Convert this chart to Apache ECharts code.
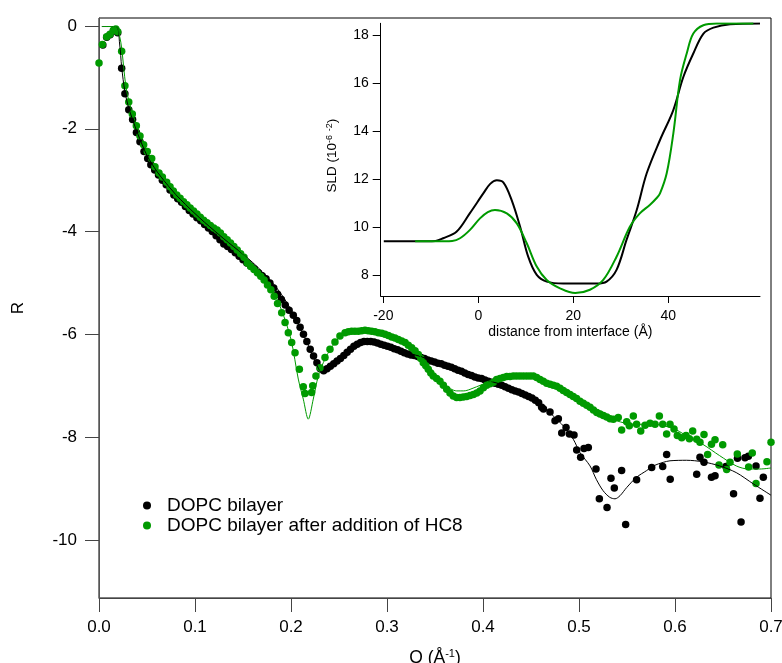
<!DOCTYPE html>
<html><head><meta charset="utf-8">
<script src="https://cdn.jsdelivr.net/npm/echarts@6/dist/echarts.min.js"></script>
<style>html,body{margin:0;padding:0;background:#fff}#c{width:782px;height:663px}</style>
</head><body><div id="c"></div>
<script>
// ---- main plot: reflectivity data (Q in 1/Å, R) ----
const blackQ = [0.004,0.008,0.0115,0.015,0.0195,0.0236,0.027,0.031,0.035,0.039,0.0427,0.0469,0.0507,0.054,0.058,0.062,0.066,0.070,0.074,0.078,0.082,0.086,0.090,0.094,0.098,0.102,0.106,0.110,0.114,0.118,0.122,0.126,0.130,0.134,0.138,0.142,0.146,0.150,0.154,0.158,0.162,0.166,0.170,0.174,0.178,0.182,0.186,0.190,0.194,0.198,0.2024,0.206,0.2095,0.213,0.2165,0.220,0.2235,0.227,0.2305,0.234,0.2375,0.241,0.2445,0.248,0.2515,0.255,0.2585,0.262,0.2655,0.269,0.2725,0.276,0.2795,0.283,0.2865,0.290,0.2935,0.297,0.3005,0.304,0.3075,0.311,0.3145,0.318,0.3215,0.325,0.3285,0.332,0.3355,0.339,0.3425,0.346,0.3495,0.353,0.3565,0.360,0.3635,0.367,0.3705,0.374,0.3775,0.381,0.3845,0.388,0.3915,0.395,0.3985,0.402,0.4055,0.409,0.4125,0.416,0.4195,0.423,0.4265,0.430,0.4335,0.437,0.4405,0.444,0.4475,0.451,0.4545,0.458,0.4611,0.463,0.4698,0.475,0.4785,0.482,0.4865,0.490,0.4948,0.4976,0.5017,0.5052,0.5097,0.5177,0.5212,0.5292,0.5333,0.5368,0.5444,0.5486,0.560,0.5757,0.5872,0.5913,0.5950,0.6226,0.626,0.6302,0.638,0.6417,0.653,0.661,0.6651,0.6688,0.6729,0.6764,0.6844,0.6885,0.692];
const blackR = [-0.37,-0.22,-0.17,-0.09,-0.13,-0.82,-1.32,-1.63,-1.82,-2.07,-2.25,-2.44,-2.58,-2.70,-2.80,-2.90,-3.00,-3.09,-3.19,-3.29,-3.36,-3.43,-3.51,-3.59,-3.66,-3.73,-3.79,-3.86,-3.93,-4.00,-4.08,-4.16,-4.24,-4.29,-4.35,-4.41,-4.48,-4.55,-4.61,-4.67,-4.73,-4.80,-4.86,-4.92,-5.00,-5.10,-5.22,-5.32,-5.43,-5.53,-5.63,-5.73,-5.86,-6.00,-6.14,-6.29,-6.42,-6.55,-6.67,-6.71,-6.67,-6.62,-6.57,-6.52,-6.47,-6.41,-6.35,-6.29,-6.23,-6.19,-6.16,-6.14,-6.14,-6.14,-6.15,-6.17,-6.19,-6.21,-6.23,-6.25,-6.28,-6.30,-6.33,-6.36,-6.38,-6.40,-6.41,-6.43,-6.45,-6.47,-6.50,-6.52,-6.54,-6.56,-6.57,-6.60,-6.62,-6.64,-6.67,-6.70,-6.72,-6.75,-6.78,-6.80,-6.83,-6.85,-6.86,-6.89,-6.91,-6.93,-6.95,-6.97,-6.99,-7.02,-7.05,-7.08,-7.10,-7.12,-7.15,-7.18,-7.21,-7.24,-7.28,-7.33,-7.42,-7.45,-7.51,-7.68,-7.64,-7.92,-7.81,-7.94,-7.96,-8.25,-8.39,-8.22,-8.20,-8.62,-9.20,-9.37,-8.80,-8.99,-8.65,-9.70,-8.83,-8.59,-8.57,-8.34,-8.82,-8.72,-8.39,-8.49,-8.78,-8.75,-8.57,-9.10,-8.41,-9.65,-8.40,-8.37,-8.56,-9.19,-8.78];

const greenQ = [0.000,0.0035,0.008,0.0115,0.015,0.0175,0.0195,0.0236,0.027,0.031,0.0347,0.0389,0.0427,0.0465,0.0503,0.0549,0.0583,0.0625,0.066,0.0705,0.074,0.0774,0.081,0.0845,0.088,0.0915,0.095,0.0985,0.102,0.1055,0.109,0.1125,0.116,0.1195,0.123,0.1265,0.130,0.1335,0.137,0.1405,0.144,0.1475,0.151,0.1545,0.158,0.1615,0.165,0.1685,0.172,0.1755,0.179,0.1825,0.186,0.1903,0.1938,0.1972,0.2007,0.2042,0.2087,0.2128,0.2146,0.2215,0.2226,0.226,0.2302,0.2354,0.2406,0.2458,0.251,0.2563,0.2597,0.2632,0.2666,0.2701,0.2736,0.2771,0.2805,0.284,0.2875,0.291,0.2945,0.2979,0.3014,0.3049,0.3083,0.3118,0.3153,0.3188,0.3222,0.3257,0.3292,0.3326,0.3352,0.3378,0.3404,0.343,0.3456,0.3482,0.3517,0.3552,0.3587,0.3622,0.3656,0.369,0.3725,0.376,0.3795,0.383,0.3865,0.39,0.3935,0.3969,0.4004,0.4038,0.4073,0.4108,0.4142,0.4177,0.4212,0.4247,0.4281,0.4316,0.435,0.4385,0.442,0.4455,0.449,0.4524,0.4559,0.4594,0.4628,0.4663,0.4698,0.4732,0.4767,0.4802,0.4836,0.4871,0.4906,0.494,0.4975,0.501,0.5045,0.508,0.5115,0.515,0.5185,0.5219,0.5254,0.5289,0.5323,0.5358,0.5409,0.5444,0.5497,0.5524,0.5566,0.560,0.5643,0.5688,0.574,0.5792,0.5837,0.5872,0.5913,0.5948,0.599,0.6024,0.607,0.6115,0.615,0.6184,0.6226,0.626,0.6302,0.634,0.638,0.6417,0.6458,0.6497,0.6538,0.6573,0.6649,0.6767,0.6805,0.6844,0.6958,0.700];
const greenR = [-0.72,-0.36,-0.21,-0.16,-0.08,-0.06,-0.11,-0.49,-1.16,-1.48,-1.71,-1.94,-2.14,-2.31,-2.44,-2.58,-2.74,-2.86,-2.94,-3.04,-3.13,-3.21,-3.29,-3.35,-3.42,-3.48,-3.54,-3.60,-3.66,-3.72,-3.78,-3.83,-3.88,-3.93,-3.97,-4.03,-4.10,-4.16,-4.22,-4.29,-4.36,-4.43,-4.50,-4.61,-4.68,-4.74,-4.80,-4.87,-4.94,-5.04,-5.13,-5.26,-5.40,-5.58,-5.77,-5.97,-6.16,-6.36,-6.68,-7.02,-7.15,-7.13,-7.00,-6.81,-6.65,-6.45,-6.29,-6.15,-6.03,-5.97,-5.95,-5.94,-5.94,-5.94,-5.93,-5.92,-5.93,-5.94,-5.95,-5.97,-5.98,-6.00,-6.02,-6.05,-6.07,-6.10,-6.13,-6.16,-6.21,-6.26,-6.32,-6.39,-6.47,-6.55,-6.61,-6.68,-6.75,-6.81,-6.86,-6.91,-6.99,-7.07,-7.14,-7.20,-7.23,-7.23,-7.22,-7.21,-7.19,-7.17,-7.14,-7.10,-7.04,-6.99,-6.96,-6.93,-6.88,-6.86,-6.84,-6.82,-6.82,-6.81,-6.81,-6.81,-6.81,-6.81,-6.81,-6.81,-6.84,-6.88,-6.91,-6.95,-6.97,-6.99,-7.01,-7.05,-7.09,-7.13,-7.17,-7.21,-7.25,-7.30,-7.34,-7.38,-7.42,-7.47,-7.52,-7.55,-7.58,-7.61,-7.64,-7.65,-7.62,-7.86,-7.70,-7.78,-7.59,-7.75,-7.88,-7.77,-7.73,-7.75,-7.59,-7.75,-7.94,-7.75,-7.84,-7.97,-8.01,-7.97,-8.03,-7.88,-8.04,-8.10,-7.95,-8.34,-8.14,-8.05,-8.54,-8.15,-8.63,-8.49,-8.33,-8.58,-8.31,-8.90,-8.48,-8.10];

// fitted curves
const blackFitQ = [0.003,0.018,0.0215,0.0236,0.027,0.031,0.035,0.04,0.05,0.06,0.07,0.08,0.09,0.10,0.11,0.12,0.13,0.14,0.15,0.16,0.17,0.18,0.19,0.20,0.21,0.22,0.2285,0.232,0.236,0.245,0.255,0.265,0.275,0.285,0.295,0.305,0.315,0.325,0.335,0.345,0.355,0.365,0.375,0.385,0.395,0.405,0.415,0.425,0.435,0.445,0.455,0.466,0.475,0.4836,0.494,0.501,0.5115,0.518,0.525,0.532,0.5375,0.5427,0.5497,0.56,0.5705,0.5774,0.5878,0.5948,0.612,0.629,0.6465,0.6638,0.6816,0.7];
const blackFitR = [-0.01,-0.01,-0.35,-0.80,-1.28,-1.60,-1.82,-2.08,-2.52,-2.82,-3.06,-3.28,-3.47,-3.65,-3.82,-3.98,-4.14,-4.29,-4.44,-4.60,-4.78,-4.98,-5.22,-5.52,-5.88,-6.30,-6.66,-6.74,-6.69,-6.56,-6.40,-6.24,-6.16,-6.14,-6.18,-6.24,-6.31,-6.38,-6.43,-6.50,-6.56,-6.62,-6.70,-6.77,-6.84,-6.90,-6.95,-7.01,-7.08,-7.16,-7.29,-7.46,-7.62,-7.78,-8.04,-8.30,-8.56,-8.82,-9.04,-9.17,-9.20,-9.14,-8.98,-8.78,-8.65,-8.56,-8.49,-8.46,-8.45,-8.48,-8.56,-8.69,-8.91,-9.13];
const greenFitQ = [0.003,0.018,0.0215,0.0236,0.0278,0.031,0.035,0.04,0.05,0.06,0.07,0.08,0.09,0.10,0.11,0.12,0.13,0.14,0.15,0.16,0.17,0.18,0.19,0.20,0.2076,0.2128,0.218,0.2232,0.2284,0.2337,0.24,0.25,0.26,0.27,0.28,0.29,0.30,0.31,0.32,0.33,0.34,0.35,0.36,0.3726,0.38,0.3865,0.40,0.4177,0.43,0.44,0.45,0.46,0.47,0.48,0.487,0.50,0.51,0.5219,0.53,0.539,0.557,0.5774,0.598,0.6118,0.629,0.6465,0.6638,0.6764,0.6885,0.7];
const greenFitR = [-0.01,-0.01,-0.20,-0.43,-1.15,-1.45,-1.70,-1.98,-2.42,-2.78,-3.03,-3.25,-3.44,-3.62,-3.78,-3.93,-4.08,-4.25,-4.44,-4.64,-4.86,-5.12,-5.52,-6.10,-6.87,-7.26,-7.65,-7.26,-6.81,-6.55,-6.32,-6.07,-5.97,-5.93,-5.93,-5.96,-6.01,-6.08,-6.18,-6.33,-6.55,-6.80,-6.98,-7.10,-7.10,-7.07,-6.97,-6.86,-6.81,-6.80,-6.82,-6.88,-6.95,-7.03,-7.07,-7.24,-7.38,-7.49,-7.58,-7.68,-7.75,-7.75,-7.83,-7.97,-8.14,-8.36,-8.56,-8.62,-8.62,-8.60];

// ---- inset: SLD profiles ----
const sldBlackZ = [-19.9,-13,-9,-7.4,-4.6,-1.8,1.05,2.5,3.9,5.3,7.0,8.8,10.5,12.3,14.4,17.9,24.9,27.0,29.1,31.2,33.35,35.45,38.25,41.05,43.16,45.26,47.4,49.5,53.0,59.3];
const sldBlack  = [9.40,9.40,9.42,9.53,9.80,10.57,11.40,11.80,11.95,11.85,11.13,10.01,8.76,8.00,7.72,7.64,7.64,7.72,8.21,9.46,10.71,12.24,13.63,14.88,16.26,17.24,18.07,18.32,18.46,18.49];
const sldGreenZ = [-13.3,-9,-5.5,-3.85,-1.75,0.35,2.0,3.5,6.0,8.1,10.2,12.3,14.4,17.2,20.4,23.5,26.3,29.1,31.9,34.0,36.1,37.5,38.25,39.66,41.05,42.46,43.87,45.26,47.37,50.2,57.9];
const sldGreen  = [9.40,9.40,9.42,9.53,9.88,10.36,10.62,10.71,10.57,10.15,9.32,8.35,7.79,7.44,7.24,7.38,7.79,8.76,10.01,10.57,10.92,11.2,11.40,12.24,13.9,16.13,17.24,18.07,18.42,18.49,18.49];

// tick labels
const mainYTicks = [0,-2,-4,-6,-8,-10];
const insetYTicks = [8,10,12,14,16,18];
const insetXTicks = [-20,0,20,40];
const seriesNames = ['DOPC bilayer','DOPC bilayer after addition of HC8'];

const zip = (a,b) => a.map((v,i)=>[v,b[i]]);
const FONT = '"Liberation Sans", Arial, Helvetica, sans-serif';
const BLACK = '#000000', GREEN = '#009a00';

const chart = echarts.init(document.getElementById('c'), null, {renderer:'canvas'});
chart.setOption({
  animation:false,
  backgroundColor:'#fff',
  textStyle:{fontFamily:FONT},
  grid:[
    {left:99, right:11, top:18, bottom:65, show:true, borderColor:'#000', borderWidth:1, backgroundColor:'transparent', outerBoundsMode:'none', containLabel:false},
    {left:380.7, right:22, top:23.3, bottom:367, show:false, outerBoundsMode:'none', containLabel:false}
  ],
  legend:{
    data:seriesNames, orient:'vertical', left:138, top:491,
    icon:'circle', itemWidth:30, itemHeight:8, itemGap:1,
    textStyle:{fontSize:19, color:'#000', fontFamily:FONT, lineHeight:19}
  },
  xAxis:[
    {type:'value', gridIndex:0, min:0, max:0.7, interval:0.1,
     name:'{a|Q (Å}{s|-1}{a|)}', nameLocation:'middle', nameGap:50,
     nameTextStyle:{rich:{a:{fontSize:17.5,color:'#000',fontFamily:FONT,lineHeight:20},s:{fontSize:11,color:'#000',fontFamily:FONT,verticalAlign:'top',lineHeight:11}}},
     axisLine:{onZero:false, lineStyle:{color:'#444',width:1}},
     axisTick:{inside:false,length:14,lineStyle:{color:'#444'}},
     axisLabel:{fontSize:17,color:'#000',margin:21,formatter:v=>v.toFixed(1)},
     splitLine:{show:false}},
    {type:'value', gridIndex:1, min:-20.55, max:59.3,
     name:'distance from interface (Å)', nameLocation:'middle', nameGap:29,
     nameTextStyle:{fontSize:14,color:'#000'},
     axisLine:{onZero:false, lineStyle:{color:'#000',width:1}},
     axisTick:{length:7,lineStyle:{color:'#000'},customValues:insetXTicks},
     axisLabel:{fontSize:14,color:'#000',margin:13,customValues:insetXTicks},
     splitLine:{show:false}}
  ],
  yAxis:[
    {type:'value', gridIndex:0, min:-11.13, max:0.156,
     name:'R', nameLocation:'middle', nameGap:72,
     nameTextStyle:{fontSize:17,color:'#000'},
     axisLine:{onZero:false, lineStyle:{color:'#555',width:1}},
     axisTick:{length:14,lineStyle:{color:'#444'},customValues:mainYTicks},
     axisLabel:{fontSize:17,color:'#000',margin:22,customValues:mainYTicks},
     splitLine:{show:false}},
    {type:'value', gridIndex:1, min:7.12, max:18.5,
     name:'{a|SLD (10}{s|-6}{a| }{s|-2}{a|)}', nameLocation:'middle', nameGap:40,
     nameTextStyle:{padding:[0,0,0,8],rich:{a:{fontSize:13.5,color:'#000',fontFamily:FONT,lineHeight:16},s:{fontSize:9,color:'#000',fontFamily:FONT,verticalAlign:'top',lineHeight:9}}},
     axisLine:{onZero:false, lineStyle:{color:'#000',width:1}},
     axisTick:{length:8,lineStyle:{color:'#000'},customValues:insetYTicks},
     axisLabel:{fontSize:14,color:'#000',margin:12,customValues:insetYTicks},
     splitLine:{show:false}}
  ],
  series:[
    {name:seriesNames[0], type:'scatter', xAxisIndex:0, yAxisIndex:0, data:zip(blackQ,blackR),
     symbol:'circle', symbolSize:7.5, itemStyle:{color:BLACK, opacity:1}, z:2},
    {name:seriesNames[1], type:'scatter', xAxisIndex:0, yAxisIndex:0, data:zip(greenQ,greenR),
     symbol:'circle', symbolSize:7.5, itemStyle:{color:GREEN, opacity:1}, z:3},
    {name:'black fit', type:'line', xAxisIndex:0, yAxisIndex:0, data:zip(blackFitQ,blackFitR),
     showSymbol:false, smooth:0.3, lineStyle:{color:BLACK,width:1}, z:4},
    {name:'green fit', type:'line', xAxisIndex:0, yAxisIndex:0, data:zip(greenFitQ,greenFitR),
     showSymbol:false, smooth:0.3, lineStyle:{color:GREEN,width:1}, z:5},
    {name:'SLD black', type:'line', xAxisIndex:1, yAxisIndex:1, data:zip(sldBlackZ,sldBlack),
     showSymbol:false, smooth:0.35, lineStyle:{color:BLACK,width:2}, z:6},
    {name:'SLD green', type:'line', xAxisIndex:1, yAxisIndex:1, data:zip(sldGreenZ,sldGreen),
     showSymbol:false, smooth:0.35, lineStyle:{color:GREEN,width:2}, z:7}
  ]
});
</script></body></html>
